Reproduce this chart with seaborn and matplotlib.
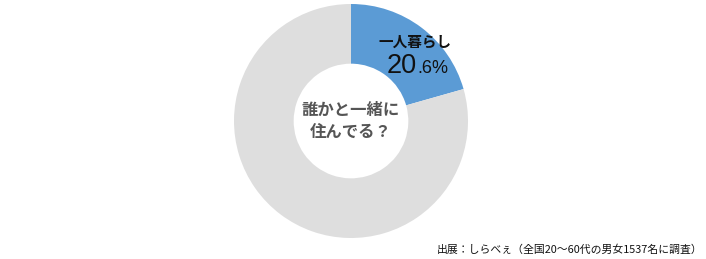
import matplotlib
matplotlib.use("Agg")
import matplotlib.pyplot as plt
import seaborn as sns

categories = ["一人暮らし", "その他"]
values = [20.6, 79.4]
colors = ["#5B9BD5", "#DEDEDE"]
center_label = "誰かと一緒に\n住んでる？"
source_text = "出展：しらべぇ（全国20〜60代の男女1537名に調査）"

sns.set_theme(style="white")
plt.rcParams['font.family'] = ['Noto Sans CJK JP', 'DejaVu Sans']

W, H = 706, 259
fig = plt.figure(figsize=(W / 100, H / 100), dpi=100)
cx, cy, R = 351, 121, 117
ax = fig.add_axes([(cx - R) / W, (H - cy - R) / H, 2 * R / W, 2 * R / H])
ax.pie(values, colors=colors, startangle=90, counterclock=False,
       radius=1.0, wedgeprops=dict(width=0.51, edgecolor="none"))
ax.set_xlim(-1, 1)
ax.set_ylim(-1, 1)
ax.set_aspect("equal")
ax.axis("off")

def fx(px):
    return px / W

def fy(py):
    return 1 - py / H

fig.text(fx(cx), fy(cy), center_label, ha="center", va="center",
         fontsize=11.8, fontweight="bold", color="#555555", linespacing=1.25)

fig.text(fx(415), fy(42), categories[0], ha="center", va="center",
         fontsize=10.5, fontweight="bold", color="#111111")
whole, frac = f"{values[0]:.1f}".split(".")
fig.text(fx(417), fy(73), whole, ha="right", va="baseline",
         fontsize=19.5, color="#111111", family=["Liberation Sans", "DejaVu Sans"])
fig.text(fx(417), fy(73), "." + frac + "%", ha="left", va="baseline",
         fontsize=13, color="#111111", family=["Liberation Sans", "DejaVu Sans"])

fig.text(fx(703), fy(250), source_text, ha="right", va="center",
         fontsize=7.8, color="#111111")

fig.savefig("out.png", dpi=100, facecolor="white")
